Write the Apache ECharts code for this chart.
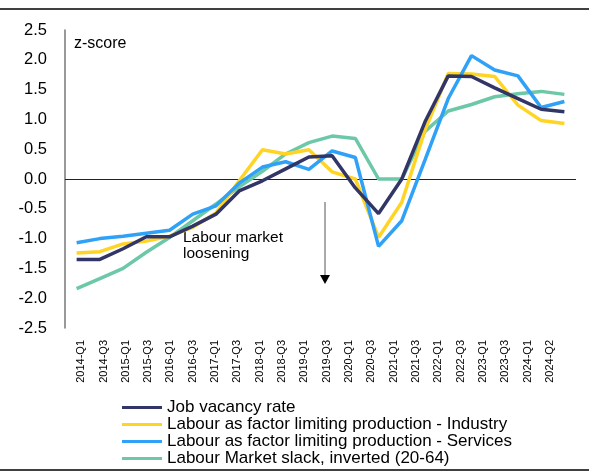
<!DOCTYPE html>
<html>
<head>
<meta charset="utf-8">
<script src="https://cdn.jsdelivr.net/npm/echarts@6/dist/echarts.min.js"></script>
<style>
  html, body { margin: 0; padding: 0; background: #fff; }
  #chart { width: 589px; height: 472px; }
</style>
</head>
<body>
<div id="chart"></div>
<script>
  // quarters shown on the axis
  const quarters = ['2014-Q1','2014-Q3','2015-Q1','2015-Q3','2016-Q1','2016-Q3','2017-Q1','2017-Q3',
    '2018-Q1','2018-Q3','2019-Q1','2019-Q3','2020-Q1','2020-Q3','2021-Q1','2021-Q3',
    '2022-Q1','2022-Q3','2023-Q1','2023-Q3','2024-Q1','2024-Q2'];

  // z-scores
  const jobVacancy = [-1.35,-1.35,-1.17,-0.97,-0.97,-0.79,-0.59,-0.2,-0.03,0.17,0.37,0.39,
    -0.15,-0.58,0.0,0.96,1.73,1.72,1.53,1.35,1.17,1.13];
  const industry = [-1.24,-1.22,-1.09,-1.04,-0.96,-0.81,-0.57,-0.03,0.49,0.42,0.49,0.12,
    0.0,-0.98,-0.39,0.82,1.77,1.76,1.72,1.24,0.98,0.93];
  const services = [-1.07,-1.0,-0.96,-0.91,-0.86,-0.59,-0.45,-0.07,0.2,0.29,0.16,0.47,
    0.36,-1.13,-0.7,0.32,1.35,2.07,1.83,1.73,1.2,1.3];
  const slack = [-1.84,-1.67,-1.5,-1.23,-0.98,-0.7,-0.42,-0.13,0.13,0.42,0.61,0.72,
    0.68,0.0,0.0,0.8,1.14,1.25,1.38,1.43,1.47,1.42];

  const names = ['Job vacancy rate',
    'Labour as factor limiting production - Industry',
    'Labour as factor limiting production - Services',
    'Labour Market slack, inverted (20-64)'];
  const colors = ['#323667', '#FFD423', '#2FA1F7', '#6CC8A6'];
  const font = 'Liberation Sans, Arial, sans-serif';

  let myChart = echarts.init(document.getElementById('chart'));

  function line(name, data, color, extra) {
    return Object.assign({
      name: name,
      type: 'line',
      data: data,
      symbol: 'none',
      lineStyle: { width: 3.5, color: color },
      itemStyle: { color: color },
      z: 3
    }, extra || {});
  }

  myChart.setOption({
    animation: false,
    textStyle: { fontFamily: font },
    grid: [
      { left: 65, right: 13, top: 30, bottom: 144 },
      // labels of the category axis sit a little narrower than the lines in the original
      { left: 70, right: 28, top: 30, bottom: 144 }
    ],
    legend: {
      orient: 'vertical',
      left: 122,
      top: 399,
      height: 70,
      padding: 0,
      itemWidth: 40,
      itemHeight: 3,
      itemGap: 0,
      icon: 'rect',
      textStyle: { fontSize: 17, color: '#000', lineHeight: 16 },
      data: names
    },
    xAxis: [
      {
        type: 'category',
        data: quarters,
        boundaryGap: true,
        axisLine: { show: false, onZero: false },
        axisTick: { show: false },
        axisLabel: { show: false }
      },
      {
        type: 'category',
        gridIndex: 1,
        data: quarters,
        boundaryGap: true,
        axisLine: { show: false, onZero: false },
        axisTick: { show: false },
        axisLabel: { rotate: 90, fontSize: 11, color: '#000', margin: 12, interval: 0 }
      }
    ],
    yAxis: [
      {
        type: 'value',
        min: -2.5,
        max: 2.5,
        interval: 0.5,
        axisLine: { show: true, lineStyle: { color: '#777', width: 1.5 } },
        axisTick: { show: false },
        splitLine: { show: false },
        axisLabel: {
          fontSize: 16.5, color: '#000', margin: 18,
          formatter: v => v.toFixed(1)
        }
      },
      { type: 'value', gridIndex: 1, show: false, min: 0, max: 1 }
    ],
    series: [
      line(names[3], slack, colors[3]),
      line(names[1], industry, colors[1]),
      line(names[2], services, colors[2]),
      line(names[0], jobVacancy, colors[0], {
        markLine: {
          silent: true,
          symbol: 'none',
          label: { show: false },
          lineStyle: { color: '#222', width: 1, type: 'solid' },
          data: [{ yAxis: 0 }],
          z: 1
        }
      })
    ],
    graphic: [
      { type: 'line', shape: { x1: 0, y1: 9, x2: 589, y2: 9 }, style: { stroke: '#000', lineWidth: 1.5 } },
      { type: 'line', shape: { x1: 0, y1: 470, x2: 589, y2: 470 }, style: { stroke: '#000', lineWidth: 1.5 } },
      { type: 'text', left: 74, top: 36, style: { text: 'z-score', fontSize: 16, fill: '#000', fontFamily: font } },
      { type: 'text', left: 183, top: 230, style: { text: 'Labour market\nloosening', fontSize: 15.5, lineHeight: 16, fill: '#000', fontFamily: font } },
      { type: 'line', shape: { x1: 325, y1: 202, x2: 325, y2: 277 }, style: { stroke: '#555', lineWidth: 1 } },
      { type: 'polygon', shape: { points: [[320, 275], [330, 275], [325, 284]] }, style: { fill: '#000' } }
    ]
  });
</script>
</body>
</html>
